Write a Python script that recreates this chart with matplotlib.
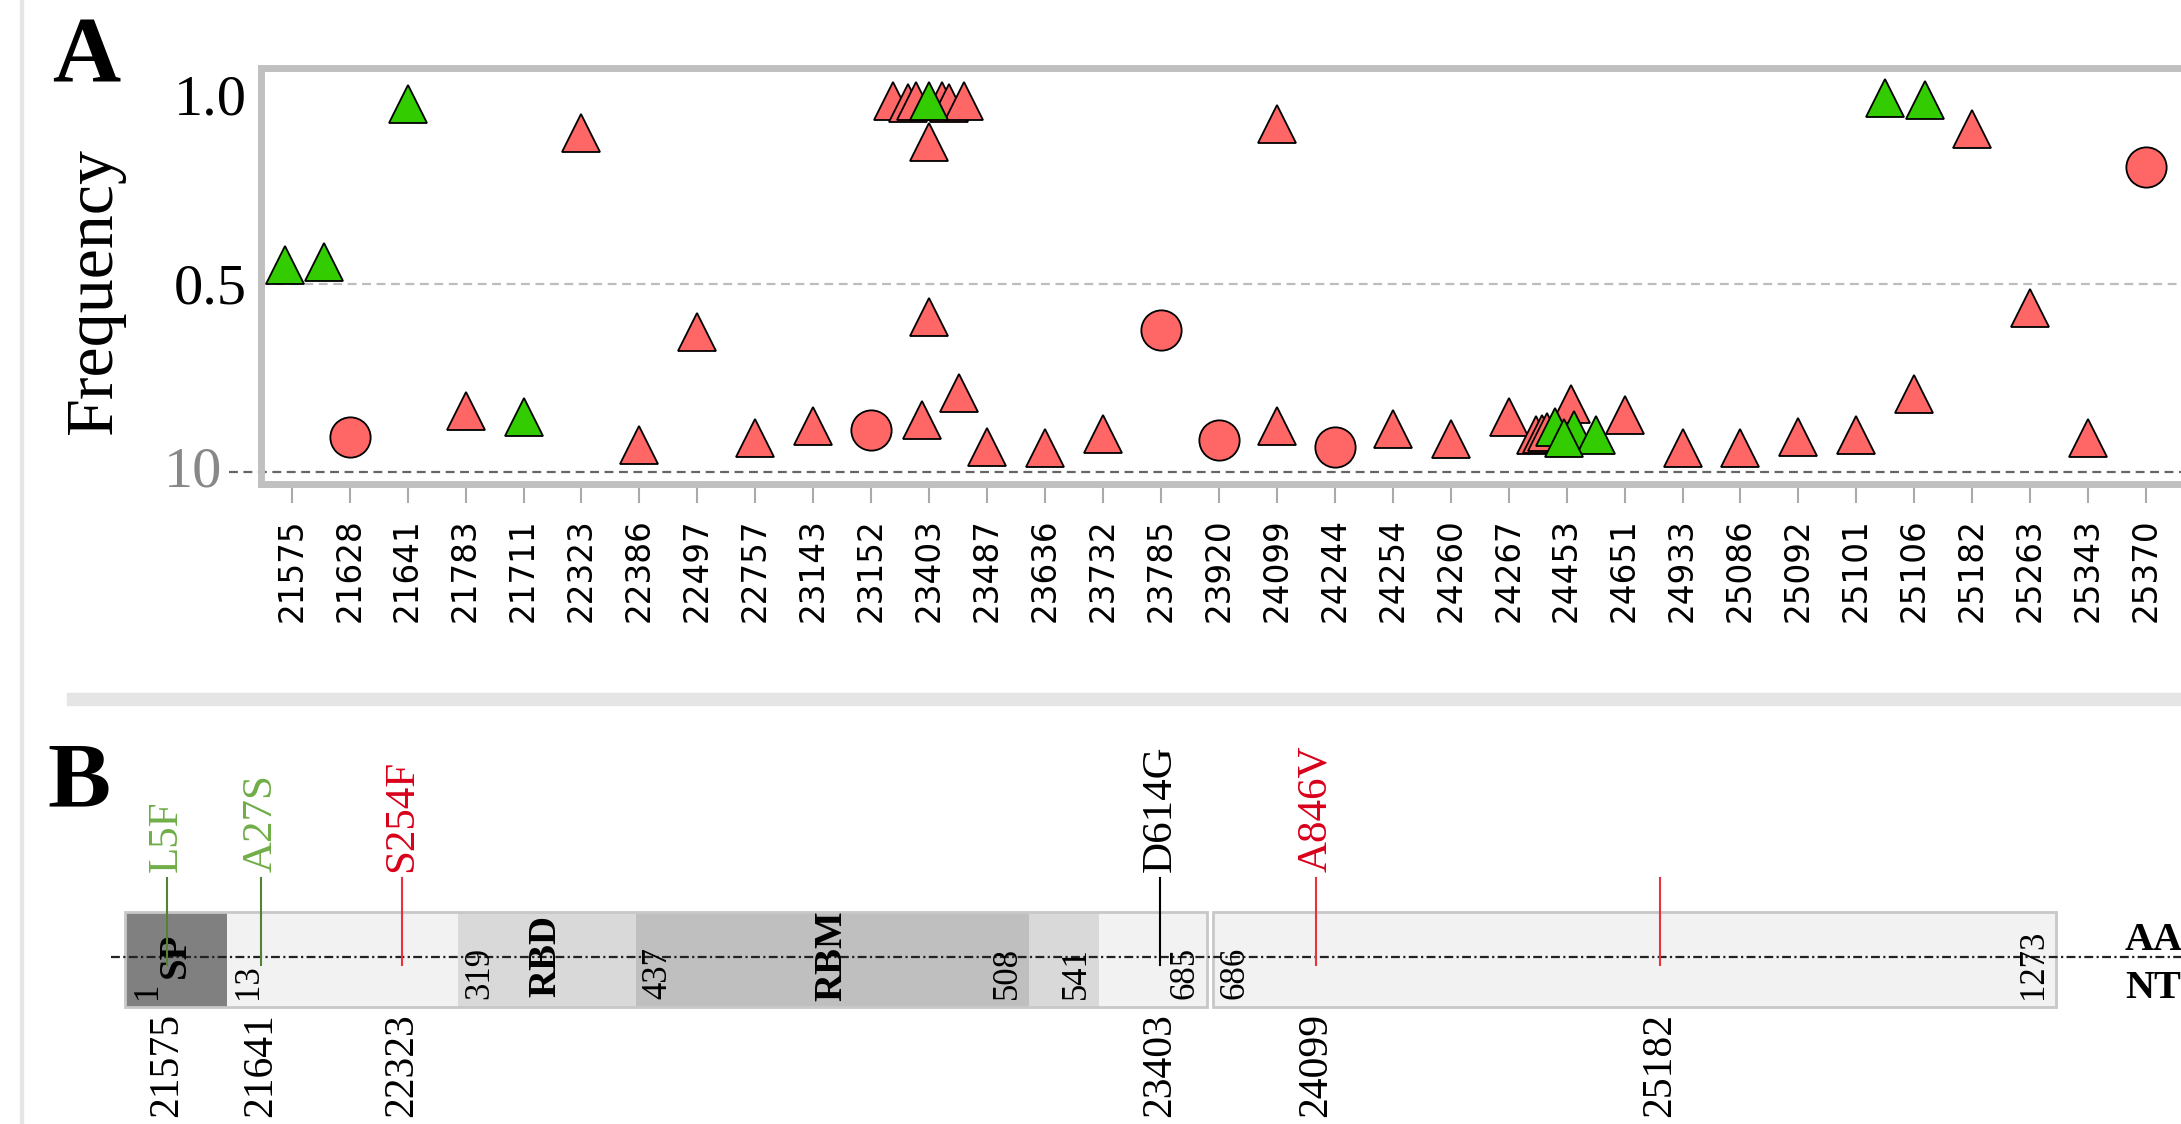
import matplotlib.pyplot as plt
from matplotlib.patches import Rectangle

# ---- panel A data ----
sites = ['21575', '21628', '21641', '21783', '21711', '22323', '22386', '22497', '22757',
         '23143', '23152', '23403', '23487', '23636', '23732', '23785', '23920', '24099',
         '24244', '24254', '24260', '24267', '24453', '24651', '24933', '25086', '25092',
         '25101', '25106', '25182', '25263', '25343', '25370']

# each mark: site, sideways shift inside the site slot, frequency
red_tri_site = ['21783', '22323', '22386', '22497', '22757', '23143', '23403', '23403', '23403',
                '23403', '23403', '23403', '23403', '23403', '23403', '23403', '23487', '23636',
                '23732', '24099', '24099', '24254', '24260', '24267', '24453', '24453', '24453',
                '24453', '24651', '24933', '25086', '25092', '25101', '25106', '25182', '25263',
                '25343']
red_tri_shift = [0, 0, 0, 0, 0, 0, -0.13, -0.63, -0.37,
                 -0.22, 0.23, 0.35, 0.6, 0, 0, 0.52, 0, 0,
                 0, 0, 0, 0, 0, 0, -0.52, -0.42, -0.33,
                 0.08, 0, 0, 0, 0, 0, 0, 0, 0,
                 0]
red_tri_freq = [0.162, 0.899, 0.072, 0.371, 0.09, 0.122, 0.138, 0.985, 0.98,
                0.983, 0.983, 0.98, 0.985, 0.875, 0.412, 0.21, 0.066, 0.064,
                0.10, 0.122, 0.923, 0.114, 0.088, 0.146, 0.098, 0.102, 0.106,
                0.18, 0.151, 0.064, 0.064, 0.093, 0.098, 0.207, 0.91, 0.435,
                0.09]

red_dot_site = ['21628', '23152', '23785', '23920', '24244', '25370']
red_dot_shift = [0, 0, 0, 0, 0, 0]
red_dot_freq = [0.093, 0.111, 0.377, 0.085, 0.066, 0.809]

green_tri_site = ['21575', '21575', '21641', '21711', '23403', '24453', '24453', '24453',
                  '24453', '25106', '25106']
green_tri_shift = [-0.12, 0.55, 0, 0, 0, -0.2, 0.13, 0.5, -0.04, -0.51, 0.18]
green_tri_freq = [0.549, 0.557, 0.976, 0.145, 0.985, 0.119, 0.111, 0.098, 0.09, 0.992, 0.987]

# ---- panel B data (spike schematic, x = % along the drawn bar) ----
aa_marks = ['1', '13', '319', '437', '508', '541', '685', '686', '1273']
aa_mark_x = [0, 5.26, 17.22, 26.44, 46.83, 50.43, 56.05, 56.34, 100]
aa_mark_side = ['l', 'l', 'l', 'l', 'r', 'r', 'r', 'l', 'r']

seg_from = [0, 5.26, 17.22, 26.44, 46.83, 50.43, 56.34]
seg_to = [5.26, 17.22, 26.44, 46.83, 50.43, 56.05, 100]
seg_color = ['#808080', '#f2f2f2', '#d9d9d9', '#bfbfbf', '#d9d9d9', '#f2f2f2', '#f2f2f2']

domain_names = ['SP', 'RBD', 'RBM']
domain_x = [2.63, 21.8, 36.6]

mut_x = [2.16, 7.06, 14.34, 53.6, 61.67, 79.47]
mut_nt = ['21575', '21641', '22323', '23403', '24099', '25182']
mut_aa = ['L5F', 'A27S', 'S254F', 'D614G', 'A846V', '']
mut_text_color = ['#70ad47', '#70ad47', '#d9001b', '#000000', '#d9001b', '#d9001b']
mut_line_color = ['#548235', '#548235', '#e8323c', '#000000', '#e8323c', '#e8323c']

SERIF = 'Liberation Serif'
RED = '#ff6666'
GREEN = '#33cc00'

W, H = 2181, 1124
fig = plt.figure(figsize=(W / 100, H / 100), dpi=100)

# page decorations
fig.patches.append(Rectangle((20 / W, 0), 3 / W, 1, transform=fig.transFigure,
                             color='#e6e6e6', zorder=0))
fig.patches.append(Rectangle((67 / W, 1 - 705 / H), 1, 12 / H, transform=fig.transFigure,
                             color='#e5e5e5', zorder=0))

# ================= panel A =================
slot = 57.95
x_lo, x_hi = -0.53, 36.0
ax = fig.add_axes([261 / W, (H - 484) / H, (x_hi - x_lo) * slot / W, 416 / H])
ax.set_xlim(x_lo, x_hi)
ax.set_ylim(-0.0318, 1.0716)

def xs(site, shift):
    return [sites.index(s) + d for s, d in zip(site, shift)]

ax.plot([0, 1], [0.5, 0.5], transform=ax.get_yaxis_transform(), color='#bdbdbd',
        lw=1.6, linestyle=(0, (4, 2.5)), zorder=1)
ax.plot([-0.015, 1], [0, 0], transform=ax.get_yaxis_transform(), color='#666666',
        lw=1.6, linestyle=(0, (4, 2.5)), clip_on=False, zorder=1)

ax.plot(xs(red_tri_site, red_tri_shift), red_tri_freq, linestyle='none', marker='^',
        markersize=28, markerfacecolor=RED, markeredgecolor='black', markeredgewidth=1.3, zorder=3)
ax.plot(xs(red_dot_site, red_dot_shift), red_dot_freq, linestyle='none', marker='o',
        markersize=29, markerfacecolor=RED, markeredgecolor='black', markeredgewidth=1.3, zorder=3)
ax.plot(xs(green_tri_site, green_tri_shift), green_tri_freq, linestyle='none', marker='^',
        markersize=28, markerfacecolor=GREEN, markeredgecolor='black', markeredgewidth=1.3, zorder=4)

for sp in ax.spines.values():
    sp.set_color('#c0c0c0')
    sp.set_linewidth(5)

ax.set_xticks(range(len(sites)))
ax.set_xticklabels(sites, rotation=90, fontsize=23.5, family='DejaVu Sans')
ax.tick_params(axis='x', length=13.7, width=1.5, color='#aaaaaa', pad=10.8)

ax.set_yticks([0.5, 1.0])
ax.set_yticklabels(['0.5', '1.0'], fontsize=42, family=SERIF)
ax.tick_params(axis='y', length=0, pad=10)
ax.text(-0.0185, 0, '10', transform=ax.get_yaxis_transform(), ha='right', va='center',
        fontsize=42, family=SERIF, color='#888888')

fig.text(95 / W, 1 - 292 / H, 'Frequency', rotation=90, ha='center', va='center',
         fontsize=49, family=SERIF)
fig.text(52 / W, 1 - 82 / H, 'A', ha='left', va='baseline', fontsize=68,
         family=SERIF, fontweight='bold')

# ================= panel B =================
fig.text(47 / W, 1 - 806 / H, 'B', ha='left', va='baseline', fontsize=68,
         family=SERIF, fontweight='bold')

bx = fig.add_axes([125 / W, (H - 1007) / H, 1931 / W, 95 / H])
bx.set_xlim(0, 100)
bx.set_ylim(0, 1)
bx.axis('off')

for a, b, c in zip(seg_from, seg_to, seg_color):
    bx.add_patch(Rectangle((a, 0), b - a, 1, facecolor=c, edgecolor='none', zorder=1))
# two outlined blocks (split between 685 and 686)
bx.add_patch(Rectangle((seg_from[0], 0), seg_to[5] - seg_from[0], 1, facecolor='none',
                       edgecolor='#c8c8c8', lw=2, zorder=2, clip_on=False))
bx.add_patch(Rectangle((seg_from[6], 0), seg_to[6] - seg_from[6], 1, facecolor='none',
                       edgecolor='#c8c8c8', lw=2, zorder=2, clip_on=False))

bx.plot([-0.73, 110], [0.526, 0.526], color='#222222', lw=1.6,
        linestyle=(0, (4, 1.5, 1, 1.5)), clip_on=False, zorder=3)

for lab, x, side in zip(aa_marks, aa_mark_x, aa_mark_side):
    if side == 'l':
        bx.text(x + 0.3, 0.08, lab, rotation=90, ha='left', va='bottom', fontsize=25,
                family=SERIF, zorder=4)
    else:
        bx.text(x - 0.3, 0.08, lab, rotation=90, ha='right', va='bottom', fontsize=25,
                family=SERIF, zorder=4)

for name, x in zip(domain_names, domain_x):
    bx.text(x, 0.54, name, rotation=90, ha='center', va='center', fontsize=28,
            family=SERIF, fontweight='bold', zorder=4)

for x, nt, aa, tc, lc in zip(mut_x, mut_nt, mut_aa, mut_text_color, mut_line_color):
    bx.plot([x, x], [0.442, 1.358], color=lc, lw=1.5, clip_on=False, zorder=5)
    if aa:
        bx.text(x, 1.421, aa, rotation=90, ha='center', va='bottom', fontsize=31,
                family=SERIF, color=tc)
    bx.text(x, -0.063, nt, rotation=90, ha='center', va='top', fontsize=30, family=SERIF)

bx.text(103.57, 0.705, 'AA', ha='left', va='center', fontsize=29, family=SERIF,
        fontweight='bold', clip_on=False)
bx.text(103.57, 0.2, 'NT', ha='left', va='center', fontsize=29, family=SERIF,
        fontweight='bold', clip_on=False)

fig.savefig('out.png', dpi=100)
